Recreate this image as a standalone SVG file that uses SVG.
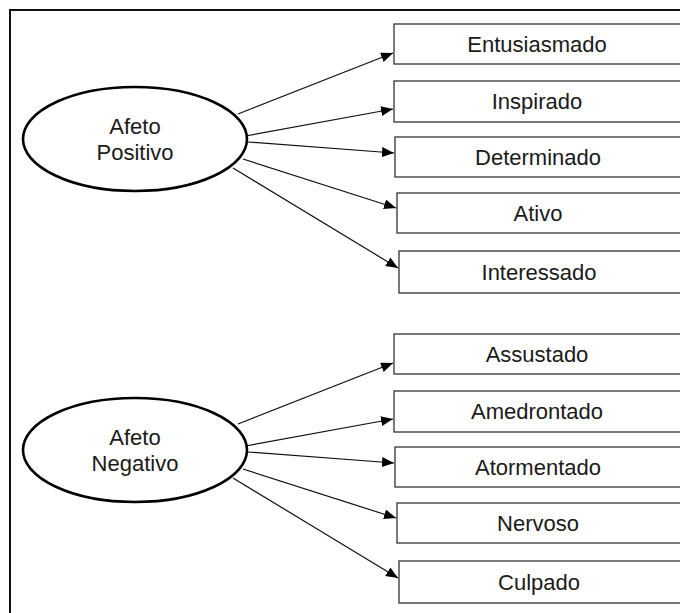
<svg xmlns="http://www.w3.org/2000/svg" width="680" height="613" viewBox="0 0 680 613">
<style>
.box{fill:#fff;stroke:#333;stroke-width:1.3}
.ell{fill:#fff;stroke:#000;stroke-width:2.6}
.t{font-family:"Liberation Sans",Arial,sans-serif;font-size:22px;fill:#1a1a1a;text-anchor:middle}
.c line{stroke:#111;stroke-width:1.2;marker-end:url(#ah)}
</style>
<defs>
<marker id="ah" markerUnits="userSpaceOnUse" markerWidth="13" markerHeight="11" refX="12" refY="5" orient="auto">
<path d="M0,0 L12,5 L0,10 z" fill="#000"/>
</marker>
</defs>
<rect width="680" height="613" fill="#fff"/>
<path d="M10,613 V10 H680" fill="none" stroke="#111" stroke-width="2"/>
<g class="c" id="connectors">
<line x1="238" y1="114" x2="393" y2="53"/>
<line x1="240" y1="137" x2="393" y2="109"/>
<line x1="248" y1="142" x2="394" y2="153"/>
<line x1="243" y1="159" x2="396" y2="208"/>
<line x1="233" y1="168" x2="398" y2="268"/>
<line x1="238" y1="424" x2="393" y2="363"/>
<line x1="240" y1="447" x2="393" y2="419"/>
<line x1="248" y1="452" x2="394" y2="463"/>
<line x1="243" y1="469" x2="396" y2="518"/>
<line x1="233" y1="478" x2="398" y2="578"/>
</g>
<g id="afeto-positivo"><ellipse class="ell" cx="135" cy="139" rx="112" ry="52"/><text class="t" x="135" y="134">Afeto</text><text class="t" x="135" y="160">Positivo</text></g>
<g id="afeto-negativo"><ellipse class="ell" cx="135" cy="450" rx="112" ry="52"/><text class="t" x="135" y="445">Afeto</text><text class="t" x="135" y="471">Negativo</text></g>
<g id="entusiasmado"><rect class="box" x="394" y="24" width="300" height="40"/><text class="t" x="537" y="52">Entusiasmado</text></g>
<g id="inspirado"><rect class="box" x="394" y="81" width="300" height="41"/><text class="t" x="537" y="109">Inspirado</text></g>
<g id="determinado"><rect class="box" x="395" y="137" width="300" height="40"/><text class="t" x="538" y="165">Determinado</text></g>
<g id="ativo"><rect class="box" x="397" y="193" width="300" height="40"/><text class="t" x="538" y="221">Ativo</text></g>
<g id="interessado"><rect class="box" x="399" y="251" width="300" height="42"/><text class="t" x="539" y="280">Interessado</text></g>
<g id="assustado"><rect class="box" x="394" y="334" width="300" height="40"/><text class="t" x="537" y="362">Assustado</text></g>
<g id="amedrontado"><rect class="box" x="394" y="391" width="300" height="41"/><text class="t" x="537" y="419">Amedrontado</text></g>
<g id="atormentado"><rect class="box" x="395" y="447" width="300" height="40"/><text class="t" x="538" y="475">Atormentado</text></g>
<g id="nervoso"><rect class="box" x="397" y="503" width="300" height="40"/><text class="t" x="538" y="531">Nervoso</text></g>
<g id="culpado"><rect class="box" x="399" y="561" width="300" height="42"/><text class="t" x="539" y="590">Culpado</text></g>
</svg>
